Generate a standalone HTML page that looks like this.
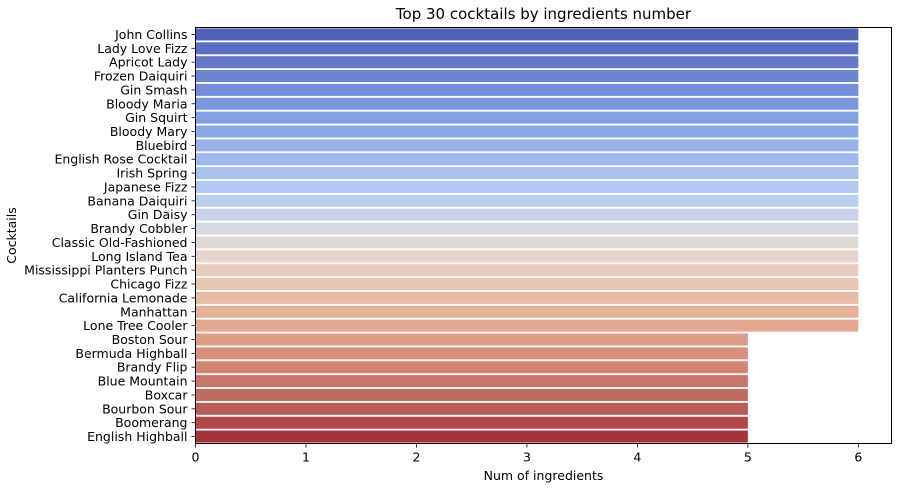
<!DOCTYPE html>
<html><head><meta charset="utf-8"><style>
html,body{margin:0;padding:0;background:#fff;}
svg{display:block;font-family:"DejaVu Sans","Liberation Sans",sans-serif;}
</style></head><body>
<svg id="chart" width="898" height="488" xmlns="http://www.w3.org/2000/svg"></svg>
<script>
const categories=["John Collins","Lady Love Fizz","Apricot Lady","Frozen Daiquiri","Gin Smash","Bloody Maria","Gin Squirt","Bloody Mary","Bluebird","English Rose Cocktail","Irish Spring","Japanese Fizz","Banana Daiquiri","Gin Daisy","Brandy Cobbler","Classic Old-Fashioned","Long Island Tea","Mississippi Planters Punch","Chicago Fizz","California Lemonade","Manhattan","Lone Tree Cooler","Boston Sour","Bermuda Highball","Brandy Flip","Blue Mountain","Boxcar","Bourbon Sour","Boomerang","English Highball"];
const values=[6,6,6,6,6,6,6,6,6,6,6,6,6,6,6,6,6,6,6,6,6,6,5,5,5,5,5,5,5,5];
const xTicks=[0,1,2,3,4,5,6];
const NS="http://www.w3.org/2000/svg";
const svg=document.getElementById('chart');
const L=195.5,R=891.5,T=27.5,B=443.5,xMax=6.3;
const xs=v=>L+v/xMax*(R-L);
const step=(B-T)/categories.length;
const ys=i=>T+step*(i+0.5);
function mk(t,a){const e=document.createElementNS(NS,t);for(const k in a)e.setAttribute(k,a[k]);svg.appendChild(e);return e;}
const stops=[[0,59,76,192],[0.1,83,112,223],[0.2,109,144,241],[0.3,138,174,252],[0.4,170,199,253],[0.5,221,220,220],[0.6,241,198,176],[0.7,244,164,133],[0.8,229,127,98],[0.9,200,82,68],[1,180,4,38]];
function cw(t){for(let i=0;i<stops.length-1;i++){const a=stops[i],b=stops[i+1];if(t<=b[0]){const f=(t-a[0])/(b[0]-a[0]);return [1,2,3].map(k=>a[k]+(b[k]-a[k])*f);}}return stops[stops.length-1].slice(1);}
function desat(c,s){let [r,g,b]=c.map(v=>v/255);const mx=Math.max(r,g,b),mn=Math.min(r,g,b),l=(mx+mn)/2;let h=0,sa=0;const d=mx-mn;
if(d>0){sa=l>0.5?d/(2-mx-mn):d/(mx+mn);if(mx===r)h=((g-b)/d+(g<b?6:0));else if(mx===g)h=(b-r)/d+2;else h=(r-g)/d+4;h/=6;}
sa*=s;const q=l<0.5?l*(1+sa):l+sa-l*sa,p=2*l-q;const hf=t=>{if(t<0)t+=1;if(t>1)t-=1;if(t<1/6)return p+(q-p)*6*t;if(t<1/2)return q;if(t<2/3)return p+(q-p)*(2/3-t)*6;return p;};
return `rgb(${Math.round(hf(h+1/3)*255)},${Math.round(hf(h)*255)},${Math.round(hf(h-1/3)*255)})`;}
const n=categories.length;
categories.forEach((c,i)=>{
 const col=desat(cw((i+1)/(n+1)),0.75);
 const r=mk('rect',{x:xs(0),y:ys(i)-6,width:xs(values[i])-xs(0),height:12,fill:col});
 
 
 mk('line',{x1:L-4,x2:L,y1:ys(i),y2:ys(i),stroke:'#000','stroke-width':0.8});
 const t=mk('text',{x:L-8,y:ys(i)+4.5,'text-anchor':'end','font-size':12.5,fill:'#000'});
 t.textContent=c;
 
 
});
xTicks.forEach(v=>{
 mk('line',{x1:xs(v),x2:xs(v),y1:B,y2:B+4,stroke:'#000','stroke-width':0.8});
 const t=mk('text',{x:xs(v),y:B+18,'text-anchor':'middle','font-size':12.5,fill:'#000'});
 t.textContent=v;
 
 
});
const fr=mk('rect',{x:L,y:T,width:R-L,height:B-T,fill:'none',stroke:'#000','stroke-width':1});


const ti=mk('text',{x:(L+R)/2,y:19,'text-anchor':'middle','font-size':15,fill:'#000'});
ti.textContent='Top 30 cocktails by ingredients number';


const xl=mk('text',{x:(L+R)/2,y:480,'text-anchor':'middle','font-size':12.5,fill:'#000'});
xl.textContent='Num of ingredients';


const yl=mk('text',{x:0,y:0,'text-anchor':'middle','font-size':12.5,fill:'#000',transform:`translate(16,${(T+B)/2}) rotate(-90)`});
yl.textContent='Cocktails';


</script>
</body></html>
